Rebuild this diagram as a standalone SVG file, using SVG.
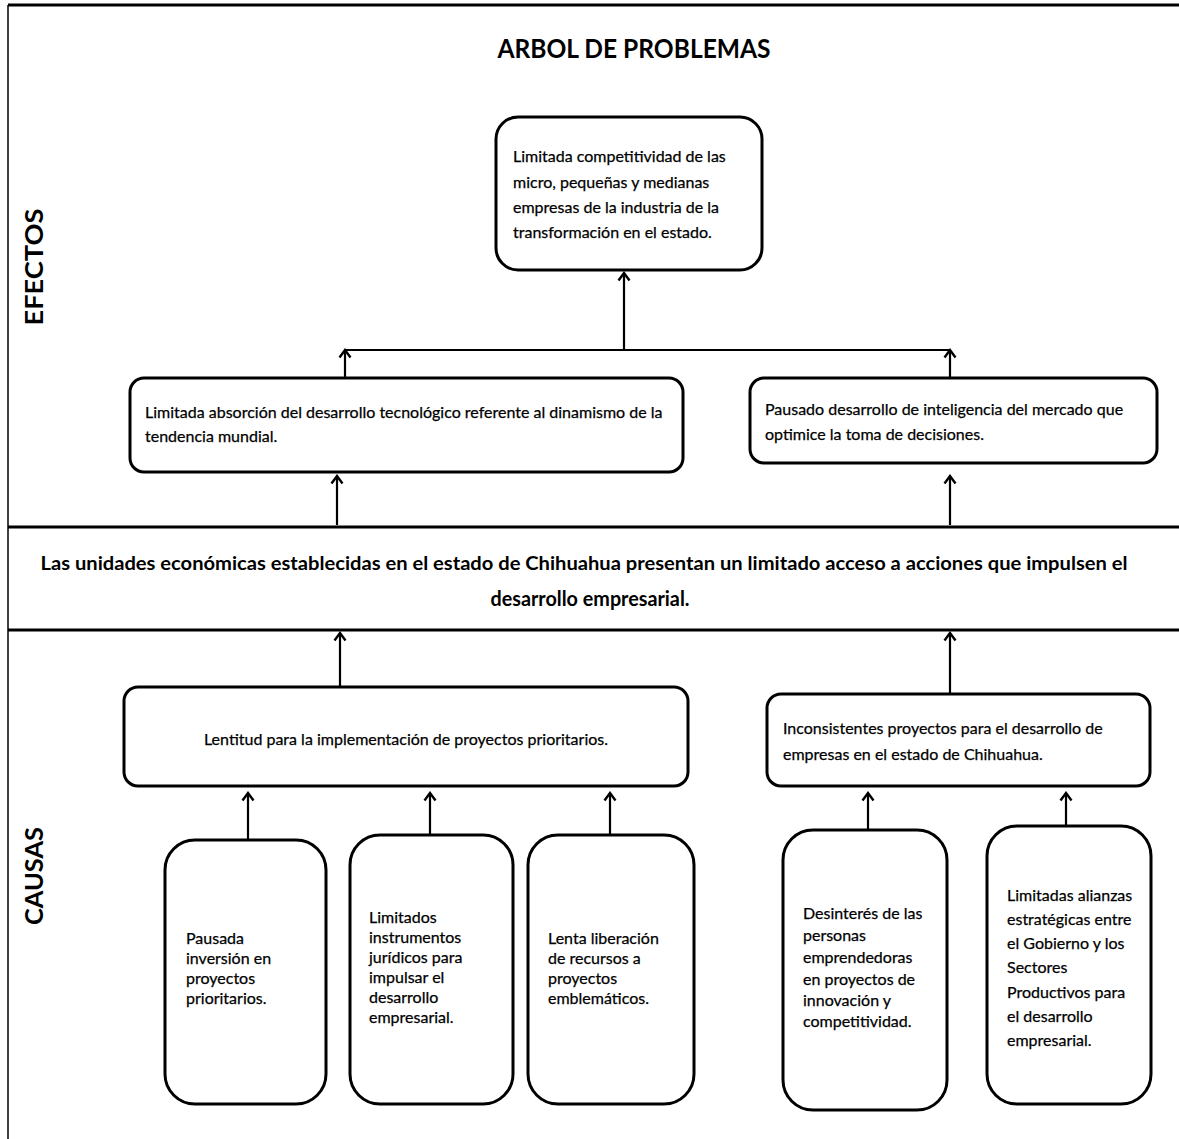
<svg xmlns="http://www.w3.org/2000/svg" width="1179" height="1139" viewBox="0 0 1179 1139">
<defs>
<style>
.box{fill:#fff;stroke:#000;stroke-width:3}
.sep{stroke:#000;stroke-width:3;fill:none}
.con{stroke:#000;stroke-width:2.2;fill:none}
.t{font-family:Lato,"Open Sans","Liberation Sans",sans-serif;font-size:16px;fill:#000;stroke:#000;stroke-width:0.25}
.b{font-family:Lato,"Open Sans","Liberation Sans",sans-serif;font-weight:bold;fill:#000}
</style>
<marker id="ah" viewBox="-9 -7 11 14" markerWidth="11" markerHeight="14" refX="0" refY="0" orient="auto" markerUnits="userSpaceOnUse">
<path d="M-7.5,-5.5 L0,0 L-7.5,5.5" fill="none" stroke="#000" stroke-width="2.4"/>
</marker>
</defs>
<rect width="1179" height="1139" fill="#fff"/>
<g id="frame">
<line class="sep" x1="8" y1="5" x2="1179" y2="5"/>
<line x1="8" y1="5" x2="8" y2="1139" stroke="#000" stroke-width="1.5"/>
<line class="sep" x1="8" y1="527" x2="1179" y2="527"/>
<line class="sep" x1="8" y1="630" x2="1179" y2="630"/>
</g>
<g id="title"><text class="b" x="634" y="58" font-size="27" text-anchor="middle" textLength="273" lengthAdjust="spacingAndGlyphs">ARBOL DE PROBLEMAS</text></g>
<g id="lbl-efectos"><text class="b" font-size="24" text-anchor="middle" textLength="117" lengthAdjust="spacingAndGlyphs" transform="translate(43,267) rotate(-90)">EFECTOS</text></g>
<g id="lbl-causas"><text class="b" font-size="24" text-anchor="middle" textLength="98" lengthAdjust="spacingAndGlyphs" transform="translate(43,876) rotate(-90)">CAUSAS</text></g>
<g id="problema">
<text class="b" font-size="19.5" x="584" y="570" text-anchor="middle" textLength="1087" lengthAdjust="spacingAndGlyphs">Las unidades económicas establecidas en el estado de Chihuahua presentan un limitado acceso a acciones que impulsen el</text>
<text class="b" font-size="20" x="590" y="606" text-anchor="middle" textLength="199" lengthAdjust="spacingAndGlyphs">desarrollo empresarial.</text>
</g>

<g id="connectors">
<line class="con" x1="624" y1="350" x2="624" y2="273" marker-end="url(#ah)"/>
<line class="con" x1="345" y1="350" x2="950" y2="350"/>
<line class="con" x1="345" y1="377" x2="345" y2="350" marker-end="url(#ah)"/>
<line class="con" x1="950" y1="377" x2="950" y2="350" marker-end="url(#ah)"/>
<line class="con" x1="337" y1="525" x2="337" y2="476" marker-end="url(#ah)"/>
<line class="con" x1="950" y1="525" x2="950" y2="476" marker-end="url(#ah)"/>
<line class="con" x1="340" y1="686" x2="340" y2="633" marker-end="url(#ah)"/>
<line class="con" x1="950" y1="693" x2="950" y2="633" marker-end="url(#ah)"/>
<line class="con" x1="248" y1="840" x2="248" y2="793" marker-end="url(#ah)"/>
<line class="con" x1="430" y1="835" x2="430" y2="793" marker-end="url(#ah)"/>
<line class="con" x1="610" y1="835" x2="610" y2="793" marker-end="url(#ah)"/>
<line class="con" x1="868" y1="830" x2="868" y2="793" marker-end="url(#ah)"/>
<line class="con" x1="1066" y1="826" x2="1066" y2="793" marker-end="url(#ah)"/>
</g>

<g id="efecto-principal">
<rect class="box" x="496" y="117" width="266" height="153" rx="22"/>
<text class="t"><tspan x="513" y="162">Limitada competitividad de las</tspan><tspan x="513" y="188">micro, pequeñas y medianas</tspan><tspan x="513" y="213">empresas de la industria de la</tspan><tspan x="513" y="238">transformación en el estado.</tspan></text>
</g>
<g id="efecto-1">
<rect class="box" x="130" y="378" width="553" height="94" rx="14"/>
<text class="t"><tspan x="145" y="418">Limitada absorción del desarrollo tecnológico referente al dinamismo de la</tspan><tspan x="145" y="442">tendencia mundial.</tspan></text>
</g>
<g id="efecto-2">
<rect class="box" x="750" y="378" width="407" height="85" rx="14"/>
<text class="t"><tspan x="765" y="415">Pausado desarrollo de inteligencia del mercado que</tspan><tspan x="765" y="440">optimice la toma de decisiones.</tspan></text>
</g>
<g id="causa-1">
<rect class="box" x="124" y="687" width="564" height="99" rx="14"/>
<text class="t" x="406" y="745" text-anchor="middle">Lentitud para la implementación de proyectos prioritarios.</text>
</g>
<g id="causa-2">
<rect class="box" x="767" y="694" width="383" height="92" rx="14"/>
<text class="t"><tspan x="783" y="734">Inconsistentes proyectos para el desarrollo de</tspan><tspan x="783" y="760">empresas en el estado de Chihuahua.</tspan></text>
</g>
<g id="sub-1">
<rect class="box" x="165" y="840" width="161" height="264" rx="30"/>
<text class="t"><tspan x="186" y="944">Pausada</tspan><tspan x="186" y="964">inversión en</tspan><tspan x="186" y="984">proyectos</tspan><tspan x="186" y="1004">prioritarios.</tspan></text>
</g>
<g id="sub-2">
<rect class="box" x="350" y="835" width="163" height="269" rx="30"/>
<text class="t"><tspan x="369" y="923">Limitados</tspan><tspan x="369" y="943">instrumentos</tspan><tspan x="369" y="963">jurídicos para</tspan><tspan x="369" y="983">impulsar el</tspan><tspan x="369" y="1003">desarrollo</tspan><tspan x="369" y="1023">empresarial.</tspan></text>
</g>
<g id="sub-3">
<rect class="box" x="528" y="835" width="166" height="269" rx="30"/>
<text class="t"><tspan x="548" y="944">Lenta liberación</tspan><tspan x="548" y="964">de recursos a</tspan><tspan x="548" y="984">proyectos</tspan><tspan x="548" y="1004">emblemáticos.</tspan></text>
</g>
<g id="sub-4">
<rect class="box" x="783" y="830" width="164" height="280" rx="30"/>
<text class="t"><tspan x="803" y="919">Desinterés de las</tspan><tspan x="803" y="941">personas</tspan><tspan x="803" y="963">emprendedoras</tspan><tspan x="803" y="985">en proyectos de</tspan><tspan x="803" y="1006">innovación y</tspan><tspan x="803" y="1027">competitividad.</tspan></text>
</g>
<g id="sub-5">
<rect class="box" x="987" y="826" width="164" height="278" rx="30"/>
<text class="t"><tspan x="1007" y="901">Limitadas alianzas</tspan><tspan x="1007" y="925">estratégicas entre</tspan><tspan x="1007" y="949">el Gobierno y los</tspan><tspan x="1007" y="973">Sectores</tspan><tspan x="1007" y="998">Productivos para</tspan><tspan x="1007" y="1022">el desarrollo</tspan><tspan x="1007" y="1046">empresarial.</tspan></text>
</g>
</svg>
